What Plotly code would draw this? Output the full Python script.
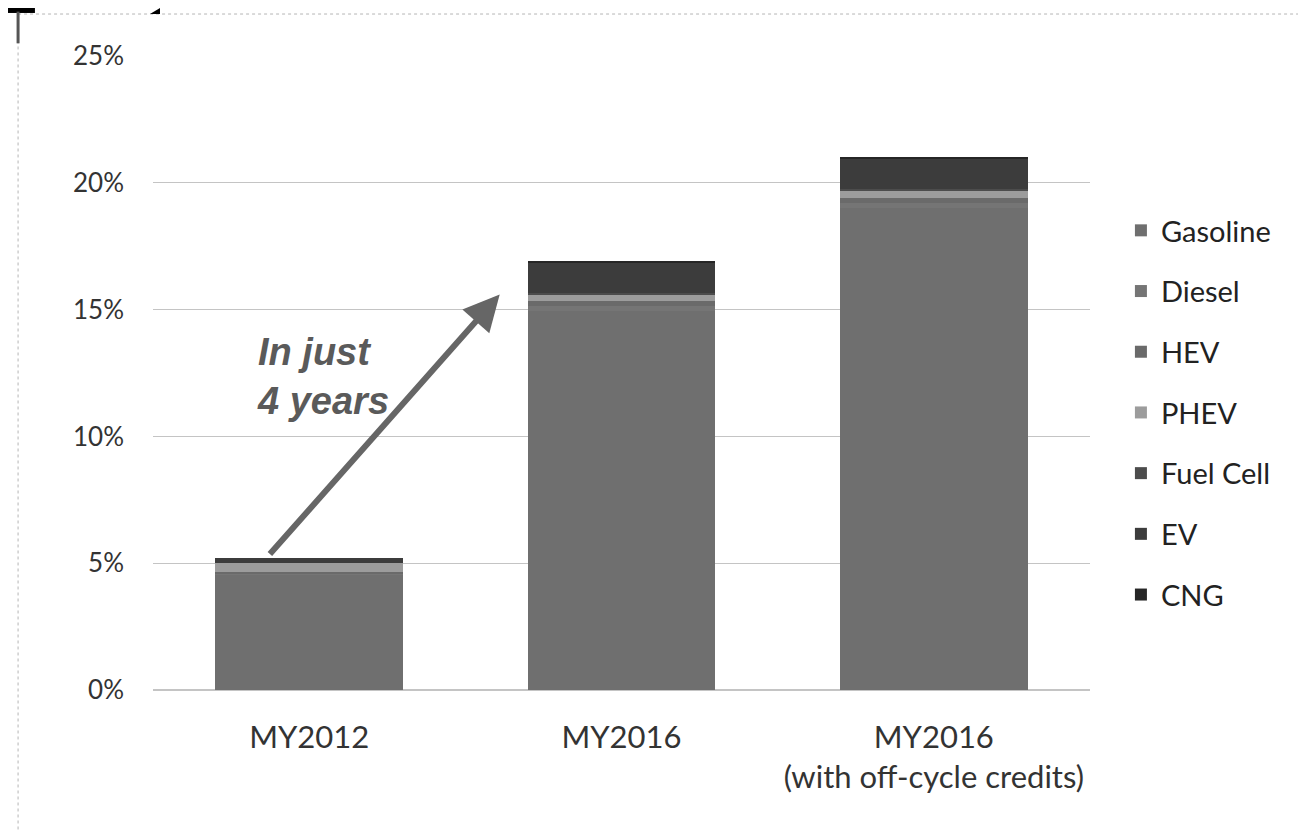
import plotly.graph_objects as go

# Technology share of fleet meeting standards (percent)
categories = ["MY2012", "MY2016", "MY2016<br>(with off-cycle credits)"]
technologies = ["Gasoline", "Diesel", "HEV", "PHEV", "Fuel Cell", "EV", "CNG"]
gasoline = [4.55, 14.95, 19.0]
diesel = [0.05, 0.2, 0.2]
hev = [0.05, 0.2, 0.2]
phev = [0.35, 0.25, 0.3]
fuel_cell = [0.0, 0.05, 0.05]
ev = [0.2, 1.2, 1.2]
cng = [0.0, 0.05, 0.05]
y_ticks = [0, 5, 10, 15, 20, 25]
y_tick_labels = ["0%", "5%", "10%", "15%", "20%", "25%"]

series = [gasoline, diesel, hev, phev, fuel_cell, ev, cng]
colors = ["#6f6f6f", "#757575", "#6a6a6a", "#9c9c9c", "#4c4c4c", "#3c3c3c", "#262626"]

fig = go.Figure()
for name, vals, col in zip(technologies, series, colors):
    fig.add_trace(go.Bar(
        x=categories,
        y=vals,
        name=name,
        legendgroup=name,
        marker=dict(color=col, line=dict(width=0)),
        width=0.6,
    ))

# arrow "In just 4 years"
fig.add_annotation(
    x=0.61, y=15.6, xref="x", yref="y",
    ax=-0.13, ay=5.3, axref="x", ayref="y",
    showarrow=True, arrowhead=2, arrowsize=1.2, arrowwidth=6,
    arrowcolor="#666666", text="",
)
fig.add_annotation(
    x=-0.172, y=12.35, xref="x", yref="y", xanchor="left",
    text="<b><i>In just<br>4 years</i></b>", showarrow=False,
    font=dict(family="Liberation Sans", size=38, color="#5a5a5a"),
    align="left",
)

# scan border remnants
fig.add_shape(type="line", xref="paper", yref="paper",
              x0=-0.144, x1=1.25, y0=1.0662, y1=1.0662,
              line=dict(color="#b5b5b5", width=1, dash="dot"))
fig.add_shape(type="line", xref="paper", yref="paper",
              x0=-0.144, x1=-0.144, y0=-0.22, y1=1.0662,
              line=dict(color="#b5b5b5", width=1, dash="dot"))
fig.add_shape(type="line", xref="paper", yref="paper",
              x0=-0.156, x1=-0.126, y0=1.0726, y1=1.0726,
              line=dict(color="#000000", width=6))
fig.add_shape(type="line", xref="paper", yref="paper",
              x0=-0.144, x1=-0.144, y0=1.07, y1=1.02,
              line=dict(color="#555555", width=3))
fig.add_shape(type="path", xref="paper", yref="paper",
              path="M 0.0075 1.0757 L 0.0075 1.0662 L -0.0032 1.0662 Z",
              fillcolor="#000000", line=dict(width=0))

fig.update_layout(
    width=1306,
    height=832,
    barmode="stack",
    plot_bgcolor="white",
    paper_bgcolor="white",
    margin=dict(l=145, r=224, t=48, b=150),
    font=dict(family="Lato", size=26, color="#333333"),
    legend=dict(
        x=1.033, y=0.765, xanchor="left", yanchor="top",
        traceorder="grouped", tracegroupgap=20,
        font=dict(family="Lato", size=29, color="#222222"),
        itemwidth=30,
    ),
    showlegend=True,
)
fig.update_yaxes(
    range=[0, 25],
    tickvals=y_ticks,
    ticktext=y_tick_labels,
    showgrid=True,
    gridcolor="#c4c4c4",
    gridwidth=1,
    zeroline=True,
    zerolinecolor="#c4c4c4",
    ticks="",
    ticklabelstandoff=28,
    tickfont=dict(size=26, color="#333333"),
)
fig.update_xaxes(
    showgrid=False,
    ticks="",
    ticklabelstandoff=26,
    tickfont=dict(size=31, color="#333333"),
)

fig.write_html("out.html")
